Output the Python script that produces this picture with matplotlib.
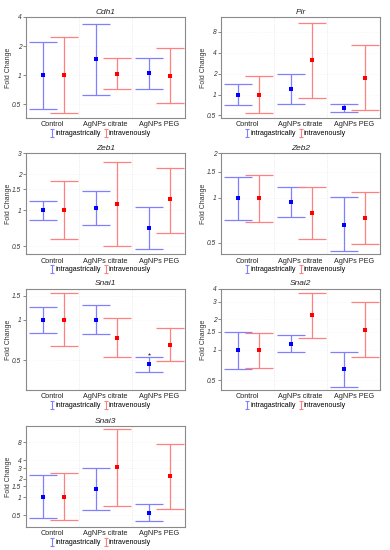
#!/usr/bin/env python
"""
Fold change of EMT genes after AgNPs exposure, two routes of administration.
"""

import numpy as np
import matplotlib
matplotlib.use("Agg")
import matplotlib.pyplot as plt
from matplotlib.ticker import FixedLocator, NullLocator
from matplotlib.legend_handler import HandlerErrorbar
from matplotlib.container import ErrorbarContainer

plt.rcParams["font.family"] = ["Liberation Sans", "DejaVu Sans"]

groups = ["Control", "AgNPs citrate", "AgNPs PEG"]
routes = ["intragastrically", "intravenously"]
genes = ["Cdh1", "Pir", "Zeb1", "Zeb2", "Snai1", "Snai2", "Snai3"]

# mean, lower, upper per gene, per group: [intragastric, intravenous]
cdh1_mean = [[1.0, 1.0], [1.47, 1.03], [1.04, 0.98]]
cdh1_low = [[0.45, 0.41], [0.63, 0.71], [0.72, 0.52]]
cdh1_high = [[2.2, 2.46], [3.41, 1.5], [1.5, 1.89]]

pir_mean = [[1.0, 1.0], [1.2, 3.1], [0.64, 1.71]]
pir_low = [[0.70, 0.55], [0.74, 0.9], [0.57, 0.59]]
pir_high = [[1.44, 1.85], [2.0, 10.8], [0.72, 5.2]]

zeb1_mean = [[1.0, 1.0], [1.04, 1.12], [0.71, 1.23]]
zeb1_low = [[0.83, 0.57], [0.75, 0.50], [0.47, 0.65]]
zeb1_high = [[1.2, 1.77], [1.44, 2.55], [1.07, 2.27]]

zeb2_mean = [[1.0, 1.0], [0.935, 0.79], [0.66, 0.73]]
zeb2_low = [[0.71, 0.69], [0.74, 0.53], [0.44, 0.49]]
zeb2_high = [[1.39, 1.42], [1.19, 1.19], [1.01, 1.10]]

snai1_mean = [[1.0, 1.0], [1.0, 0.73], [0.47, 0.65]]
snai1_low = [[0.80, 0.64], [0.78, 0.53], [0.41, 0.49]]
snai1_high = [[1.25, 1.57], [1.29, 1.02], [0.53, 0.86]]

snai2_mean = [[1.0, 1.0], [1.15, 2.19], [0.64, 1.57]]
snai2_low = [[0.65, 0.66], [0.94, 1.31], [0.43, 0.84]]
snai2_high = [[1.5, 1.48], [1.41, 3.67], [0.95, 2.99]]

snai3_mean = [[1.0, 1.0], [1.34, 3.1], [0.55, 2.25]]
snai3_low = [[0.45, 0.41], [0.60, 0.72], [0.40, 0.64]]
snai3_high = [[2.28, 2.45], [3.05, 13.4], [0.76, 7.6]]

# y range and tick labels
ylims = {
    "Cdh1": (0.36, 4.0), "Pir": (0.46, 13.1), "Zeb1": (0.43, 3.0),
    "Zeb2": (0.42, 2.0), "Snai1": (0.30, 1.69), "Snai2": (0.40, 4.0),
    "Snai3": (0.32, 14.8),
}
yticks = {
    "Cdh1": [0.5, 1, 2, 4], "Pir": [0.5, 1, 2, 4, 8],
    "Zeb1": [0.5, 1, 1.5, 2, 3], "Zeb2": [0.5, 1, 1.5, 2],
    "Snai1": [0.5, 1, 1.5], "Snai2": [0.5, 1, 1.5, 2, 3, 4],
    "Snai3": [0.5, 1, 1.5, 2, 3, 4, 8],
}
# significance mark: gene -> (group index, route index, y)
stars = {"Snai1": (2, 0, 0.555)}

data = {
    "Cdh1": (cdh1_mean, cdh1_low, cdh1_high),
    "Pir": (pir_mean, pir_low, pir_high),
    "Zeb1": (zeb1_mean, zeb1_low, zeb1_high),
    "Zeb2": (zeb2_mean, zeb2_low, zeb2_high),
    "Snai1": (snai1_mean, snai1_low, snai1_high),
    "Snai2": (snai2_mean, snai2_low, snai2_high),
    "Snai3": (snai3_mean, snai3_low, snai3_high),
}

linecolors = ["#8080ff", "#ff8080"]
dotcolors = ["#0000ff", "#ff0000"]
offsets = [-0.18, 0.22]

fig = plt.figure(figsize=(3.9, 5.5), dpi=100)

col_left = [0.067, 0.567]
row_bottom = [0.7855, 0.538, 0.291, 0.0418]
width = 0.408
height = 0.1836

for i, gene in enumerate(genes):
    row, col = divmod(i, 2)
    ax = fig.add_axes([col_left[col], row_bottom[row], width, height])
    mean, low, high = [np.array(a) for a in data[gene]]
    x = np.arange(len(groups))

    handles = []
    for r in range(2):
        xr = x + offsets[r]
        yerr = [mean[:, r] - low[:, r], high[:, r] - mean[:, r]]
        eb = ax.errorbar(xr, mean[:, r], yerr=yerr, fmt="s", ms=2.4,
                         color=dotcolors[r], ecolor=linecolors[r],
                         elinewidth=0.9, capsize=10, capthick=0.9,
                         zorder=3)
        eb.lines[0].set_markeredgewidth(0)
        eb.lines[0].set_zorder(4)
        # small I-shaped proxy for the legend
        proxy = ax.errorbar([np.nan], [np.nan], yerr=[[1], [1]], fmt="none",
                            ecolor=linecolors[r], elinewidth=0.8,
                            capsize=1.5, capthick=0.8, label=routes[r])
        handles.append(proxy)

    if gene in stars:
        g, r, ys = stars[gene]
        ax.plot(x[g] + offsets[r], ys, marker="*", ms=2.5, mew=0,
                color="#333333", linestyle="none")

    ax.set_yscale("log")
    ax.set_ylim(*ylims[gene])
    ax.set_xlim(-0.5, 2.5)
    ax.yaxis.set_major_locator(FixedLocator(yticks[gene]))
    ax.yaxis.set_minor_locator(NullLocator())
    ax.set_yticklabels([f"{t:g}" for t in yticks[gene]], fontsize=4.8,
                       style="italic", color="#333333")
    ax.set_xticks(x)
    ax.set_xticklabels(groups, fontsize=5.2, color="#222222")
    ax.tick_params(axis="x", length=0, pad=2.5)
    ax.tick_params(axis="y", length=2, width=0.5, pad=1.5, color="#555555")

    for b in [0.5, 1.5]:
        ax.axvline(b, color="#dddddd", lw=0.5, ls=":")
    for t in yticks[gene]:
        ax.axhline(t, color="#eeeeee", lw=0.4, ls=":", zorder=0)

    for s in ax.spines.values():
        s.set_color("#8a8a8a")
        s.set_linewidth(0.8)

    ax.set_title(gene, fontsize=6, style="italic", pad=2.5, color="#222222")
    ax.set_ylabel("Fold Change", fontsize=5, color="#333333")
    ax.yaxis.set_label_coords(-0.09, 0.5)

    ax.legend(handles=handles, loc="center",
              bbox_to_anchor=(0.47, -0.155), ncol=2, frameon=False,
              fontsize=5.1, handlelength=0.5, handletextpad=0.2,
              columnspacing=0.4, borderpad=0,
              handler_map={ErrorbarContainer: HandlerErrorbar(yerr_size=0.55)})

fig.savefig("out.png", dpi=100)
